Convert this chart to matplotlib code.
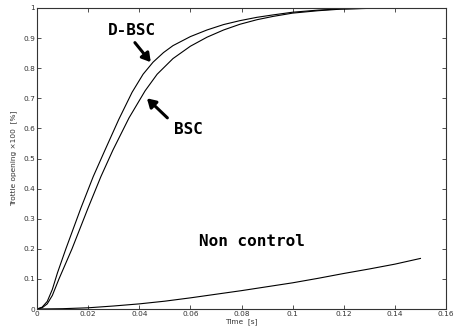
import matplotlib
matplotlib.use("Agg")
import matplotlib.pyplot as plt

# D-BSC response
t_dbsc = [0, 0.002, 0.004, 0.006, 0.008, 0.0113, 0.0172, 0.022, 0.0266, 0.032,
          0.0372, 0.0415, 0.0454, 0.0495, 0.0532, 0.06, 0.0665, 0.073, 0.0794,
          0.086, 0.0923, 0.1, 0.11, 0.1185, 0.135]
y_dbsc = [0, 0.006, 0.025, 0.065, 0.12, 0.2, 0.336, 0.44, 0.528, 0.63,
          0.72, 0.78, 0.82, 0.852, 0.875, 0.905, 0.927, 0.945, 0.958,
          0.969, 0.977, 0.986, 0.993, 0.997, 1.0]
# BSC response
t_bsc = [0, 0.002, 0.004, 0.006, 0.0086, 0.0137, 0.02, 0.025, 0.0297, 0.036,
         0.0423, 0.047, 0.0532, 0.06, 0.0665, 0.073, 0.0794, 0.086, 0.0923,
         0.1, 0.11, 0.1185, 0.135]
y_bsc = [0, 0.004, 0.017, 0.045, 0.1, 0.2, 0.336, 0.44, 0.528, 0.635,
         0.725, 0.78, 0.832, 0.873, 0.903, 0.927, 0.946, 0.961, 0.972,
         0.983, 0.991, 0.996, 1.0]
# Non control response
t_nc = [0, 0.01, 0.02, 0.03, 0.04, 0.05, 0.06, 0.07, 0.08, 0.09, 0.1, 0.11,
        0.12, 0.13, 0.14, 0.15]
y_nc = [0, 0.001, 0.004, 0.01, 0.017, 0.026, 0.037, 0.049, 0.061, 0.074,
        0.087, 0.102, 0.118, 0.133, 0.149, 0.168]

xticks = [0, 0.02, 0.04, 0.06, 0.08, 0.1, 0.12, 0.14, 0.16]
xticklabels = ["0", "0.02", "0.04", "0.06", "0.08", "0.1", "0.12", "0.14", "0.16"]
yticks = [0, 0.1, 0.2, 0.3, 0.4, 0.5, 0.6, 0.7, 0.8, 0.9, 1.0]
yticklabels = ["0", "0.1", "0.2", "0.3", "0.4", "0.5", "0.6", "0.7", "0.8", "0.9", "1"]

fig = plt.figure(figsize=(4.54, 3.29), dpi=100)
ax = fig.add_axes([37/454, 20/329, 409/454, 301/329])

lw = 0.8
ax.plot(t_dbsc, y_dbsc, color="black", lw=lw)
ax.plot(t_bsc, y_bsc, color="black", lw=lw)
ax.plot(t_nc, y_nc, color="black", lw=lw)

ax.set_xlim(0, 0.16)
ax.set_ylim(0, 1)
ax.set_xticks(xticks)
ax.set_xticklabels(xticklabels)
ax.set_yticks(yticks)
ax.set_yticklabels(yticklabels)
ax.tick_params(direction="in", length=3, width=0.6, top=True, right=True,
               labelsize=5.3, colors="#333333", pad=1.5)
for s in ax.spines.values():
    s.set_linewidth(0.8)
    s.set_color("#333333")

ax.set_xlabel("Time  [s]", fontsize=5.3, color="#333333", labelpad=0.5)
ax.set_ylabel("Trottle opening \u00d7100  [%]", fontsize=5.3, color="#333333", labelpad=4)

afont = dict(family="DejaVu Sans Mono", fontweight="bold", fontsize=11.5, color="black")
ax.text(0.0372, 0.925, "D-BSC", ha="center", va="center", **afont)
ax.text(0.0594, 0.595, "BSC", ha="center", va="center", **afont)
ax.text(0.0842, 0.225, "Non control", ha="center", va="center", **afont)

arrowprops = dict(arrowstyle="-|>,head_length=0.5,head_width=0.3", color="black", lw=2.2,
                  shrinkA=0, shrinkB=0)
ax.annotate("", xy=(0.0445, 0.82), xytext=(0.0383, 0.885), arrowprops=arrowprops)
ax.annotate("", xy=(0.0430, 0.70), xytext=(0.0510, 0.635), arrowprops=arrowprops)

fig.savefig("out.png", dpi=100)
